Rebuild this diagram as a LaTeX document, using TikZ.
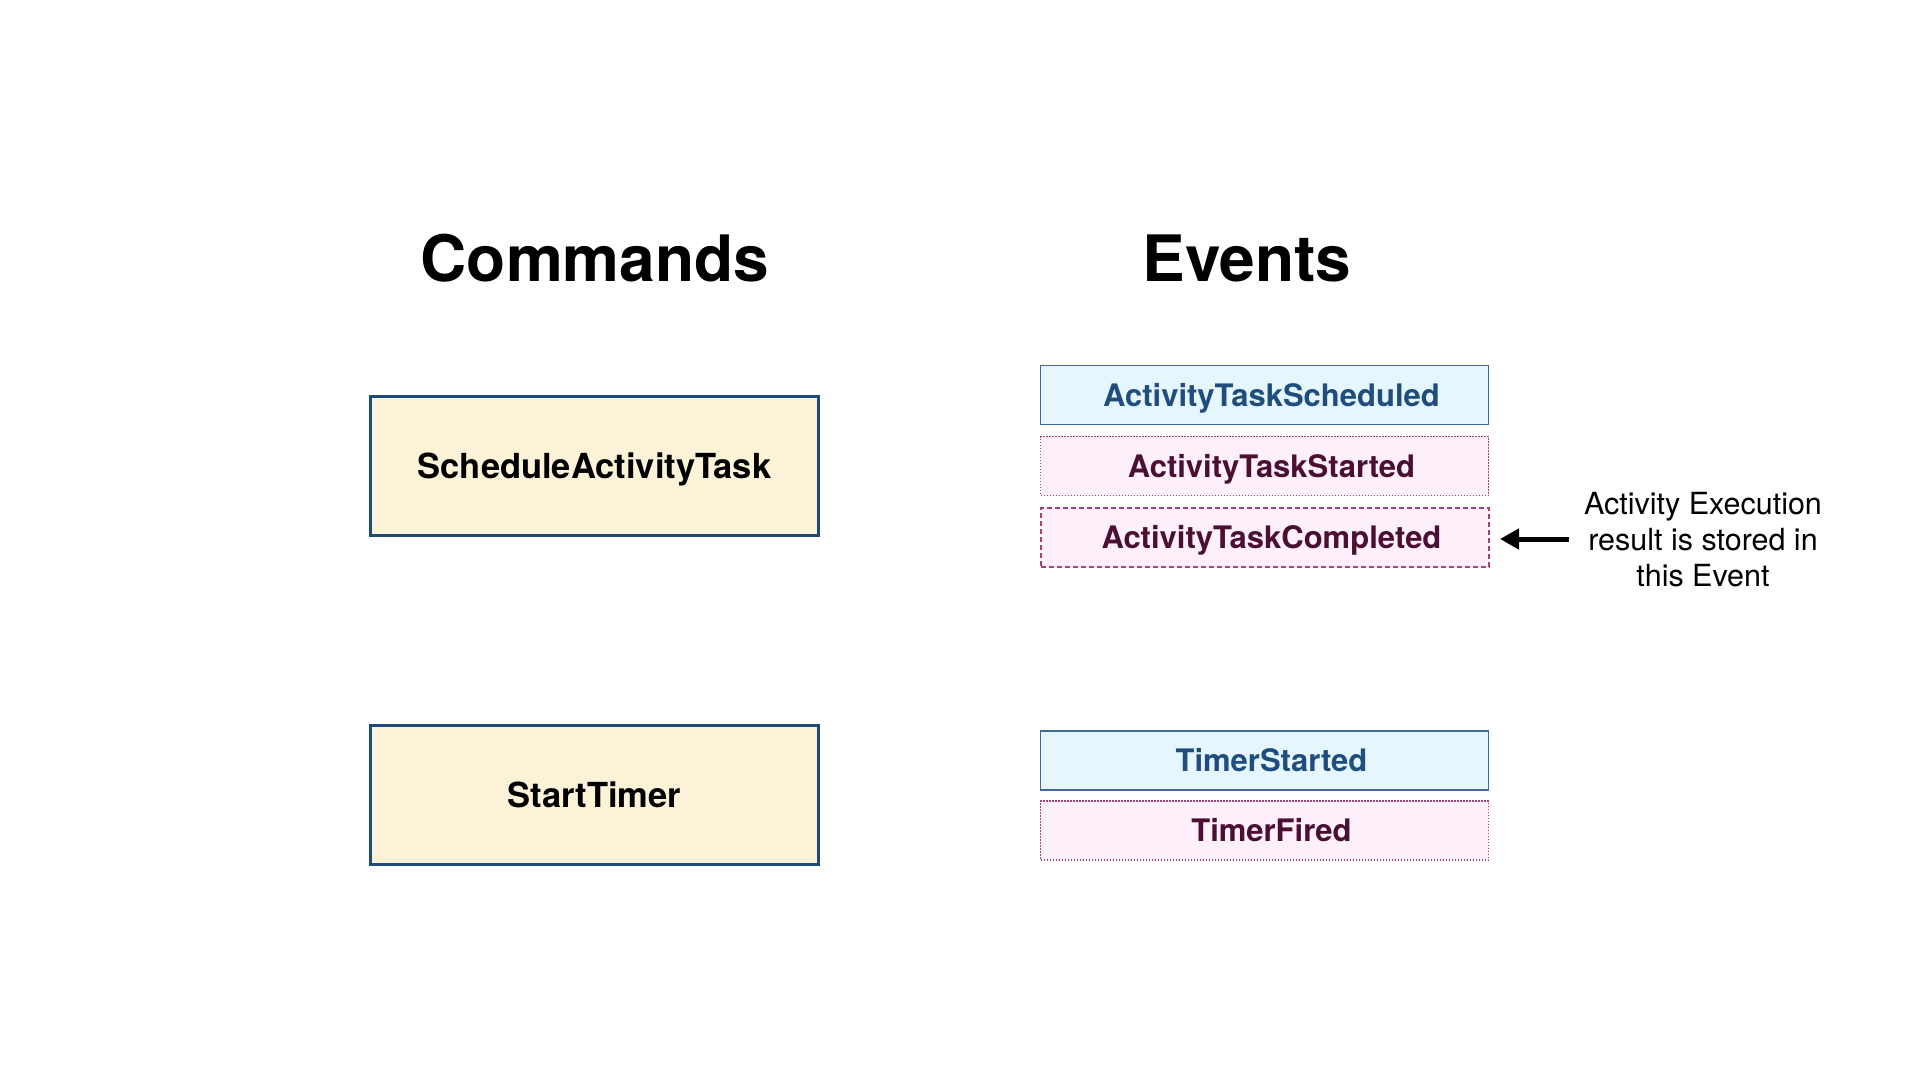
\documentclass[tikz,border=0pt]{standalone}
\usepackage{fontspec}
\setmainfont{TeX Gyre Heros}
\usetikzlibrary{arrows.meta}
\definecolor{cmdfill}{HTML}{FCF2D8}
\definecolor{cmdline}{HTML}{1F4B7A}
\definecolor{schedfill}{HTML}{E6F6FD}
\definecolor{schedline}{HTML}{41699A}
\definecolor{schedtext}{HTML}{1F4E7E}
\definecolor{progfill}{HTML}{FDF0FA}
\definecolor{progline}{HTML}{A3427A}
\definecolor{progtext}{HTML}{4A0F33}
% event labels sit slightly right of their box centre
\newcommand{\evlabel}[1]{\hspace*{14pt}#1}
\begin{document}
\begin{tikzpicture}[x=1pt,y=-1pt,
  heading/.style={font=\fontsize{64}{74}\selectfont\bfseries},
  cmdbox/.style={draw=cmdline,line width=3pt,fill=cmdfill,minimum width=448pt,minimum height=139pt,
    font=\fontsize{34.5}{41}\selectfont\bfseries,inner sep=0pt,text height=25pt,text depth=0pt},
  evbase/.style={minimum width=448pt,minimum height=59pt,inner sep=0pt,
    font=\fontsize{31}{37}\selectfont\bfseries,text height=22pt,text depth=0pt},
  evsched/.style={evbase,draw=schedline,line width=1.3pt,fill=schedfill,text=schedtext},
  evprog/.style={evbase,draw=progline,line width=1.2pt,dash pattern=on 1.5pt off 1.5pt,fill=progfill,text=progtext},
  evresult/.style={evbase,draw=progline,line width=2pt,dash pattern=on 5pt off 3pt,fill=progfill,text=progtext},
  note/.style={font=\fontsize{30.5}{36}\selectfont,align=center}]
\useasboundingbox[fill=white] (0,0) rectangle (1920,1080);

\node[heading] (cmdtitle) at (595,258) {Commands};
\node[heading] (evtitle) at (1247,258) {Events};

\node[cmdbox] (sched) at (594.5,465.5) {ScheduleActivityTask};
\node[cmdbox] (timer) at (594.5,794.5) {StartTimer};

\node[evsched] (ats) at (1264.5,395) {\evlabel{ActivityTaskScheduled}};
\node[evprog] (atst) at (1264.5,466) {\evlabel{ActivityTaskStarted}};
\node[evresult] (atc) at (1264.5,537) {\evlabel{ActivityTaskCompleted}};

\node[evsched] (ts) at (1264.5,760.5) {\evlabel{TimerStarted}};
\node[evprog] (tf) at (1264.5,830.5) {\evlabel{TimerFired}};

\node[note] (result) at (1703,540) {Activity Execution\\result is stored in\\this Event};
\coordinate (tail) at (1569,539);
\coordinate (head) at (1500,539);
\draw[line width=5pt,-{Triangle[length=19pt,width=20pt]}] (tail) -- (head);
\end{tikzpicture}
\end{document}
